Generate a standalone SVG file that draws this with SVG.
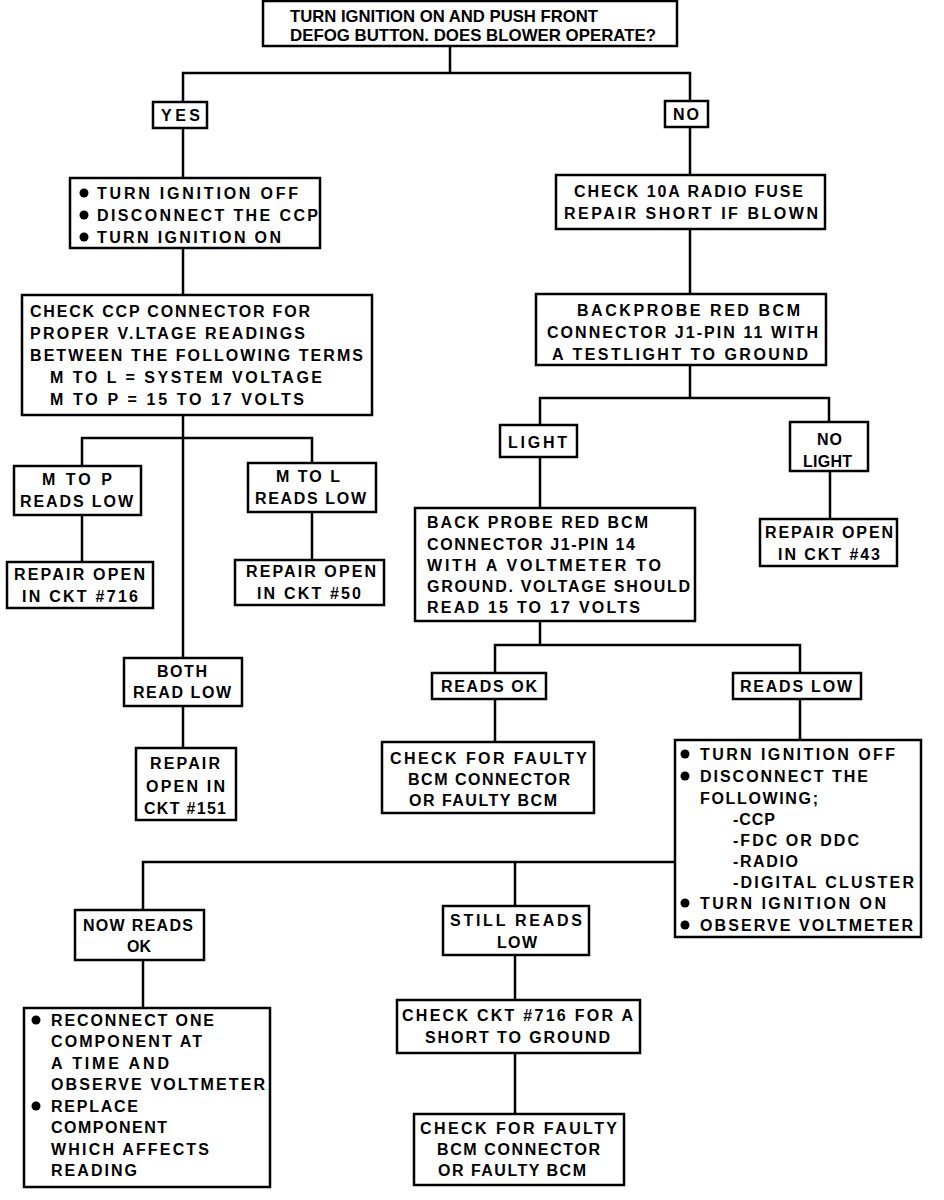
<svg xmlns="http://www.w3.org/2000/svg" width="944" height="1200" viewBox="0 0 944 1200">
<style>
rect{fill:#fff;stroke:#000;stroke-width:2.5}
.c line,.c path{stroke:#000;stroke-width:2.5;fill:none}
text{font-family:"Liberation Sans",Arial,sans-serif;font-weight:bold;font-size:16px;fill:#000}
.t{font-size:17px}
.b{fill:#000}
</style>
<g class="c" id="connectors">
<path d="M450,46 V73"/><path d="M183,102 V73 H690 V101"/>
<path d="M183,128 V178"/><path d="M183,248 V295"/>
<path d="M183,415 V658"/><path d="M82,466 V438 H312 V463"/>
<path d="M82,515 V562"/><path d="M312,512 V560"/><path d="M183,706 V748"/>
<path d="M690,127 V175"/><path d="M690,229 V294"/><path d="M690,365 V398"/>
<path d="M540,425 V398 H829 V422"/><path d="M540,457 V508"/><path d="M830,471 V519"/>
<path d="M540,621 V645"/><path d="M495,673 V645 H800 V673"/>
<path d="M495,699 V742"/><path d="M800,699 V740"/>
<path d="M143,910 V862 H675"/><path d="M515,862 V906"/>
<path d="M143,960 V1008"/><path d="M515,955 V1000"/><path d="M515,1053 V1114"/>
</g>
<g id="start"><rect x="263" y="1" width="414" height="45"/>
<text class="t" x="290" y="22" textLength="308" lengthAdjust="spacingAndGlyphs">TURN IGNITION ON AND PUSH FRONT</text>
<text class="t" x="290" y="41" textLength="366" lengthAdjust="spacingAndGlyphs">DEFOG BUTTON. DOES BLOWER OPERATE?</text></g>
<g id="yes"><rect x="153" y="102" width="54" height="26"/><text x="161" y="121" textLength="39" lengthAdjust="spacing">YES</text></g>
<g id="no"><rect x="665" y="101" width="43" height="26"/><text x="673" y="120" textLength="26" lengthAdjust="spacing">NO</text></g>
<g id="ign1"><rect x="70" y="178" width="250" height="70"/>
<circle class="b" cx="84" cy="193" r="4.5"/><circle class="b" cx="84" cy="215" r="4.5"/><circle class="b" cx="84" cy="237" r="4.5"/>
<text x="97" y="199" textLength="201" lengthAdjust="spacing">TURN IGNITION OFF</text>
<text x="97" y="221" textLength="221" lengthAdjust="spacing">DISCONNECT THE CCP</text>
<text x="97" y="243" textLength="184" lengthAdjust="spacing">TURN IGNITION ON</text></g>
<g id="ccp"><rect x="22" y="295" width="350" height="120"/>
<text x="30" y="317" textLength="280" lengthAdjust="spacing">CHECK CCP CONNECTOR FOR</text>
<text x="30" y="339" textLength="275" lengthAdjust="spacing">PROPER V.LTAGE READINGS</text>
<text x="30" y="361" textLength="333" lengthAdjust="spacing">BETWEEN THE FOLLOWING TERMS</text>
<text x="50" y="383" textLength="272" lengthAdjust="spacing">M TO L = SYSTEM VOLTAGE</text>
<text x="50" y="405" textLength="254" lengthAdjust="spacing">M TO P = 15 TO 17 VOLTS</text></g>
<g id="mtop"><rect x="14" y="466" width="127" height="49"/>
<text x="42" y="485" textLength="70" lengthAdjust="spacing">M TO P</text>
<text x="20" y="507" textLength="113" lengthAdjust="spacing">READS LOW</text></g>
<g id="r716"><rect x="7" y="562" width="146" height="46"/>
<text x="14" y="580" textLength="131" lengthAdjust="spacing">REPAIR OPEN</text>
<text x="22" y="602" textLength="116" lengthAdjust="spacing">IN CKT #716</text></g>
<g id="mtol"><rect x="248" y="463" width="128" height="49"/>
<text x="276" y="482" textLength="64" lengthAdjust="spacing">M TO L</text>
<text x="255" y="504" textLength="111" lengthAdjust="spacing">READS LOW</text></g>
<g id="r50"><rect x="235" y="560" width="149" height="45"/>
<text x="246" y="577" textLength="130" lengthAdjust="spacing">REPAIR OPEN</text>
<text x="257" y="599" textLength="104" lengthAdjust="spacing">IN CKT #50</text></g>
<g id="both"><rect x="124" y="658" width="118" height="48"/>
<text x="157" y="677" textLength="50" lengthAdjust="spacing">BOTH</text>
<text x="133" y="698" textLength="98" lengthAdjust="spacing">READ LOW</text></g>
<g id="r151"><rect x="136" y="748" width="100" height="72"/>
<text x="150" y="769" textLength="70" lengthAdjust="spacing">REPAIR</text>
<text x="146" y="792" textLength="79" lengthAdjust="spacing">OPEN IN</text>
<text x="144" y="814" textLength="82" lengthAdjust="spacing">CKT #151</text></g>
<g id="fuse"><rect x="556" y="175" width="269" height="54"/>
<text x="574" y="197" textLength="229" lengthAdjust="spacing">CHECK 10A RADIO FUSE</text>
<text x="564" y="219" textLength="254" lengthAdjust="spacing">REPAIR SHORT IF BLOWN</text></g>
<g id="probe11"><rect x="536" y="294" width="290" height="71"/>
<text x="577" y="316" textLength="223" lengthAdjust="spacing">BACKPROBE RED BCM</text>
<text x="547" y="338" textLength="271" lengthAdjust="spacing">CONNECTOR J1-PIN 11 WITH</text>
<text x="552" y="360" textLength="256" lengthAdjust="spacing">A TESTLIGHT TO GROUND</text></g>
<g id="light"><rect x="500" y="425" width="77" height="32"/>
<text x="508" y="448" textLength="59" lengthAdjust="spacing">LIGHT</text></g>
<g id="nolight"><rect x="790" y="422" width="78" height="49"/>
<text x="817" y="445" textLength="25" lengthAdjust="spacing">NO</text>
<text x="803" y="467" textLength="49" lengthAdjust="spacing">LIGHT</text></g>
<g id="r43"><rect x="760" y="519" width="137" height="47"/>
<text x="765" y="538" textLength="128" lengthAdjust="spacing">REPAIR OPEN</text>
<text x="778" y="560" textLength="102" lengthAdjust="spacing">IN CKT #43</text></g>
<g id="probe14"><rect x="415" y="508" width="280" height="113"/>
<text x="427" y="528" textLength="221" lengthAdjust="spacing">BACK PROBE RED BCM</text>
<text x="427" y="550" textLength="208" lengthAdjust="spacing">CONNECTOR J1-PIN 14</text>
<text x="427" y="571" textLength="234" lengthAdjust="spacing">WITH A VOLTMETER TO</text>
<text x="427" y="592" textLength="263" lengthAdjust="spacing">GROUND. VOLTAGE SHOULD</text>
<text x="427" y="613" textLength="213" lengthAdjust="spacing">READ 15 TO 17 VOLTS</text></g>
<g id="readsok"><rect x="432" y="673" width="114" height="26"/>
<text x="441" y="692" textLength="96" lengthAdjust="spacing">READS OK</text></g>
<g id="readslow"><rect x="733" y="673" width="128" height="26"/>
<text x="740" y="692" textLength="112" lengthAdjust="spacing">READS LOW</text></g>
<g id="faulty1"><rect x="382" y="742" width="212" height="71"/>
<text x="390" y="764" textLength="197" lengthAdjust="spacing">CHECK FOR FAULTY</text>
<text x="408" y="785" textLength="162" lengthAdjust="spacing">BCM CONNECTOR</text>
<text x="409" y="806" textLength="148" lengthAdjust="spacing">OR FAULTY BCM</text></g>
<g id="disc"><rect x="675" y="740" width="246" height="197"/>
<circle class="b" cx="685" cy="754" r="4.5"/><circle class="b" cx="685" cy="776" r="4.5"/><circle class="b" cx="685" cy="903" r="4.5"/><circle class="b" cx="685" cy="925" r="4.5"/>
<text x="700" y="760" textLength="195" lengthAdjust="spacing">TURN IGNITION OFF</text>
<text x="700" y="782" textLength="168" lengthAdjust="spacing">DISCONNECT THE</text>
<text x="700" y="804" textLength="118" lengthAdjust="spacing">FOLLOWING;</text>
<text x="733" y="825" textLength="42" lengthAdjust="spacing">-CCP</text>
<text x="733" y="846" textLength="126" lengthAdjust="spacing">-FDC OR DDC</text>
<text x="733" y="867" textLength="65" lengthAdjust="spacing">-RADIO</text>
<text x="733" y="888" textLength="181" lengthAdjust="spacing">-DIGITAL CLUSTER</text>
<text x="700" y="909" textLength="186" lengthAdjust="spacing">TURN IGNITION ON</text>
<text x="700" y="931" textLength="213" lengthAdjust="spacing">OBSERVE VOLTMETER</text></g>
<g id="nowok"><rect x="75" y="910" width="129" height="50"/>
<text x="83" y="931" textLength="110" lengthAdjust="spacing">NOW READS</text>
<text x="127" y="952" textLength="24" lengthAdjust="spacing">OK</text></g>
<g id="still"><rect x="443" y="906" width="146" height="49"/>
<text x="450" y="926" textLength="132" lengthAdjust="spacing">STILL READS</text>
<text x="497" y="948" textLength="40" lengthAdjust="spacing">LOW</text></g>
<g id="reconnect"><rect x="24" y="1008" width="246" height="179"/>
<circle class="b" cx="36" cy="1020" r="4.5"/><circle class="b" cx="36" cy="1106" r="4.5"/>
<text x="51" y="1026" textLength="163" lengthAdjust="spacing">RECONNECT ONE</text>
<text x="51" y="1047" textLength="151" lengthAdjust="spacing">COMPONENT AT</text>
<text x="51" y="1069" textLength="118" lengthAdjust="spacing">A TIME AND</text>
<text x="51" y="1090" textLength="214" lengthAdjust="spacing">OBSERVE VOLTMETER</text>
<text x="51" y="1112" textLength="87" lengthAdjust="spacing">REPLACE</text>
<text x="51" y="1133" textLength="116" lengthAdjust="spacing">COMPONENT</text>
<text x="51" y="1155" textLength="158" lengthAdjust="spacing">WHICH AFFECTS</text>
<text x="51" y="1176" textLength="86" lengthAdjust="spacing">READING</text></g>
<g id="short"><rect x="397" y="1000" width="243" height="53"/>
<text x="402" y="1021" textLength="231" lengthAdjust="spacing">CHECK CKT #716 FOR A</text>
<text x="425" y="1043" textLength="185" lengthAdjust="spacing">SHORT TO GROUND</text></g>
<g id="faulty2"><rect x="414" y="1114" width="210" height="71"/>
<text x="420" y="1134" textLength="197" lengthAdjust="spacing">CHECK FOR FAULTY</text>
<text x="437" y="1155" textLength="163" lengthAdjust="spacing">BCM CONNECTOR</text>
<text x="438" y="1176" textLength="148" lengthAdjust="spacing">OR FAULTY BCM</text></g>
</svg>
